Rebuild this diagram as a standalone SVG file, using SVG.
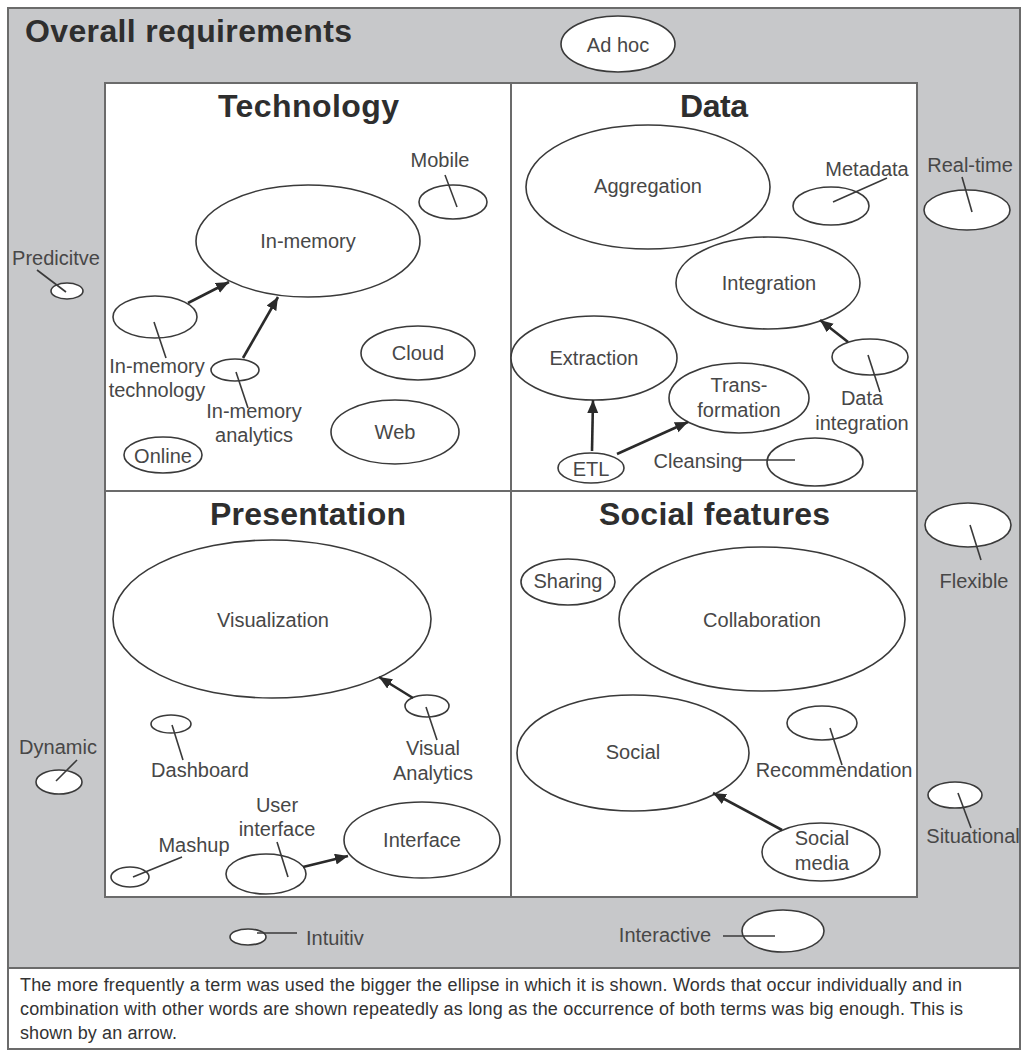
<svg xmlns="http://www.w3.org/2000/svg" width="1026" height="1052" viewBox="0 0 1026 1052">
<style>
.bg{fill:#ffffff}
.frame{fill:#c7c8ca;stroke:#6b6b6b;stroke-width:2}
.box{fill:#ffffff;stroke:#6b6b6b;stroke-width:2}
.div{stroke:#6b6b6b;stroke-width:2}
.el{fill:#ffffff;stroke:#3a3a3a;stroke-width:1.6}
.lead{stroke:#3a3a3a;stroke-width:1.6;fill:none}
.arr{stroke:#2a2a2a;stroke-width:2.6;fill:none;marker-end:url(#ah)}
.title{font-family:"Liberation Sans",Arial,sans-serif;font-weight:bold;font-size:32px;fill:#2e2e2e}
.lbl{font-family:"Liberation Sans",Arial,sans-serif;font-size:20px;fill:#474747;text-anchor:middle}
.lbll{font-family:"Liberation Sans",Arial,sans-serif;font-size:20px;fill:#474747}
.cap{font-family:"Liberation Sans",Arial,sans-serif;font-size:18px;fill:#333333}
</style>
<defs>
<marker id="ah" markerUnits="userSpaceOnUse" markerWidth="14" markerHeight="12" refX="13" refY="5.5" orient="auto">
<path d="M0,0 L13,5.5 L0,11 z" fill="#2a2a2a"/>
</marker>
</defs>
<rect class="bg" x="0" y="0" width="1026" height="1052"/>
<g id="frame">
<rect class="frame" x="8" y="8" width="1012" height="960"/>
<rect class="box" x="8" y="968" width="1012" height="81"/>
<text class="title" x="25" y="42" textLength="327">Overall requirements</text>
<rect class="box" x="105" y="83" width="812" height="814"/>
<line class="div" x1="511" y1="83" x2="511" y2="897"/>
<line class="div" x1="105" y1="491" x2="917" y2="491"/>
<text class="title" x="218" y="117" textLength="181">Technology</text>
<text class="title" x="680" y="117" textLength="68">Data</text>
<text class="title" x="210" y="525" textLength="196">Presentation</text>
<text class="title" x="599" y="525" textLength="231">Social features</text>
</g>
<g id="caption">
<text class="cap" x="20" y="991" textLength="942">The more frequently a term was used the bigger the ellipse in which it is shown. Words that occur individually and in</text>
<text class="cap" x="20" y="1015" textLength="943">combination with other words are shown repeatedly as long as the occurrence of both terms was big enough. This is</text>
<text class="cap" x="20" y="1039" textLength="157">shown by an arrow.</text>
</g>
<g id="n-adhoc"><ellipse class="el" cx="618" cy="44" rx="57" ry="28"/><text class="lbl" x="618" y="52">Ad hoc</text></g>
<g id="n-predictive"><ellipse class="el" cx="67" cy="291" rx="16" ry="8"/><text class="lbl" x="56" y="265">Predicitve</text></g>
<g id="n-mobile"><ellipse class="el" cx="453" cy="202" rx="34" ry="17"/><text class="lbl" x="440" y="167">Mobile</text></g>
<g id="n-inmemory"><ellipse class="el" cx="308" cy="241" rx="112" ry="56"/><text class="lbl" x="308" y="248">In-memory</text></g>
<g id="n-inmemtech"><ellipse class="el" cx="155" cy="317" rx="42" ry="21"/><text class="lbl" x="157" y="373">In-memory</text><text class="lbl" x="157" y="397">technology</text></g>
<g id="n-inmemanalytics"><ellipse class="el" cx="235" cy="370" rx="24" ry="11"/><text class="lbl" x="254" y="418">In-memory</text><text class="lbl" x="254" y="442">analytics</text></g>
<g id="n-cloud"><ellipse class="el" cx="418" cy="353" rx="57" ry="27"/><text class="lbl" x="418" y="360">Cloud</text></g>
<g id="n-web"><ellipse class="el" cx="395" cy="432" rx="64" ry="32"/><text class="lbl" x="395" y="439">Web</text></g>
<g id="n-online"><ellipse class="el" cx="163" cy="455" rx="39" ry="18"/><text class="lbl" x="163" y="463">Online</text></g>
<g id="n-aggregation"><ellipse class="el" cx="648" cy="187" rx="122" ry="62"/><text class="lbl" x="648" y="193">Aggregation</text></g>
<g id="n-metadata"><ellipse class="el" cx="831" cy="206" rx="38" ry="19"/><text class="lbl" x="867" y="176">Metadata</text></g>
<g id="n-realtime"><ellipse class="el" cx="967" cy="210" rx="43" ry="20"/><text class="lbl" x="970" y="172">Real-time</text></g>
<g id="n-integration"><ellipse class="el" cx="768" cy="283" rx="92" ry="46"/><text class="lbl" x="769" y="290">Integration</text></g>
<g id="n-dataintegration"><ellipse class="el" cx="870" cy="357" rx="38" ry="18"/><text class="lbl" x="862" y="405">Data</text><text class="lbl" x="862" y="430">integration</text></g>
<g id="n-extraction"><ellipse class="el" cx="594" cy="358" rx="83" ry="42"/><text class="lbl" x="594" y="365">Extraction</text></g>
<g id="n-transformation"><ellipse class="el" cx="739" cy="398" rx="70" ry="35"/><text class="lbl" x="739" y="392">Trans-</text><text class="lbl" x="739" y="417">formation</text></g>
<g id="n-etl"><ellipse class="el" cx="591" cy="468" rx="33" ry="15"/><text class="lbl" x="591" y="476">ETL</text></g>
<g id="n-cleansing"><ellipse class="el" cx="815" cy="462" rx="48" ry="24"/><text class="lbl" x="698" y="468">Cleansing</text></g>
<g id="n-visualization"><ellipse class="el" cx="272" cy="619" rx="159" ry="79"/><text class="lbl" x="273" y="627">Visualization</text></g>
<g id="n-visualanalytics"><ellipse class="el" cx="427" cy="706" rx="22" ry="11"/><text class="lbl" x="433" y="755">Visual</text><text class="lbl" x="433" y="780">Analytics</text></g>
<g id="n-dashboard"><ellipse class="el" cx="171" cy="724" rx="20" ry="9"/><text class="lbl" x="200" y="777">Dashboard</text></g>
<g id="n-dynamic"><ellipse class="el" cx="59" cy="782" rx="23" ry="12"/><text class="lbl" x="58" y="754">Dynamic</text></g>
<g id="n-userinterface"><ellipse class="el" cx="266" cy="874" rx="40" ry="20"/><text class="lbl" x="277" y="812">User</text><text class="lbl" x="277" y="836">interface</text></g>
<g id="n-interface"><ellipse class="el" cx="422" cy="840" rx="78" ry="38"/><text class="lbl" x="422" y="847">Interface</text></g>
<g id="n-mashup"><ellipse class="el" cx="130" cy="877" rx="19" ry="10"/><text class="lbl" x="194" y="852">Mashup</text></g>
<g id="n-intuitiv"><ellipse class="el" cx="248" cy="937" rx="18" ry="8"/><text class="lbll" x="306" y="945">Intuitiv</text></g>
<g id="n-flexible"><ellipse class="el" cx="968" cy="525" rx="43" ry="22"/><text class="lbl" x="974" y="588">Flexible</text></g>
<g id="n-sharing"><ellipse class="el" cx="568" cy="582" rx="47" ry="23"/><text class="lbl" x="568" y="588">Sharing</text></g>
<g id="n-collaboration"><ellipse class="el" cx="762" cy="619" rx="143" ry="72"/><text class="lbl" x="762" y="627">Collaboration</text></g>
<g id="n-social"><ellipse class="el" cx="633" cy="753" rx="116" ry="58"/><text class="lbl" x="633" y="759">Social</text></g>
<g id="n-recommendation"><ellipse class="el" cx="822" cy="723" rx="35" ry="17"/><text class="lbl" x="834" y="777">Recommendation</text></g>
<g id="n-situational"><ellipse class="el" cx="955" cy="795" rx="27" ry="13"/><text class="lbl" x="973" y="843">Situational</text></g>
<g id="n-socialmedia"><ellipse class="el" cx="821" cy="852" rx="59" ry="29"/><text class="lbl" x="822" y="845">Social</text><text class="lbl" x="822" y="870">media</text></g>
<g id="n-interactive"><ellipse class="el" cx="783" cy="931" rx="41" ry="21"/><text class="lbl" x="665" y="942">Interactive</text></g>
<g id="connectors">
<line class="lead" x1="37" y1="270" x2="66" y2="292"/>
<line class="lead" x1="445" y1="175" x2="457" y2="207"/>
<line class="lead" x1="154" y1="322" x2="166" y2="358"/>
<line class="lead" x1="236" y1="372" x2="248" y2="408"/>
<line class="lead" x1="887" y1="178" x2="833" y2="202"/>
<line class="lead" x1="962" y1="177" x2="972" y2="212"/>
<line class="lead" x1="868" y1="355" x2="880" y2="392"/>
<line class="lead" x1="740" y1="460" x2="795" y2="460"/>
<line class="lead" x1="426" y1="707" x2="437" y2="740"/>
<line class="lead" x1="172" y1="725" x2="183" y2="760"/>
<line class="lead" x1="77" y1="760" x2="56" y2="781"/>
<line class="lead" x1="277" y1="842" x2="288" y2="877"/>
<line class="lead" x1="182" y1="857" x2="133" y2="877"/>
<line class="lead" x1="257" y1="933" x2="297" y2="933"/>
<line class="lead" x1="970" y1="525" x2="981" y2="560"/>
<line class="lead" x1="830" y1="728" x2="842" y2="765"/>
<line class="lead" x1="958" y1="793" x2="971" y2="828"/>
<line class="lead" x1="723" y1="936" x2="775" y2="936"/>
<line class="arr" x1="188" y1="303" x2="229" y2="282"/>
<line class="arr" x1="243" y1="358" x2="278" y2="297"/>
<line class="arr" x1="848" y1="342" x2="820" y2="320"/>
<line class="arr" x1="592" y1="451" x2="593" y2="400"/>
<line class="arr" x1="617" y1="454" x2="688" y2="422"/>
<line class="arr" x1="413" y1="698" x2="379" y2="677"/>
<line class="arr" x1="303" y1="867" x2="348" y2="856"/>
<line class="arr" x1="782" y1="830" x2="713" y2="793"/>
</g>
</svg>
